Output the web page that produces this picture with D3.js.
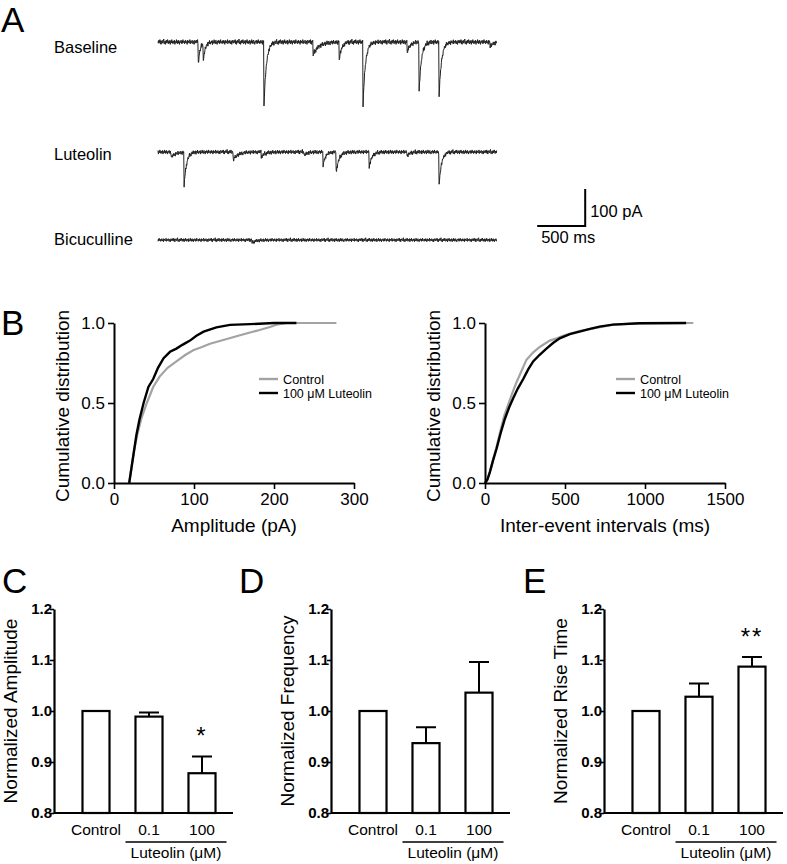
<!DOCTYPE html>
<html>
<head>
<meta charset="utf-8">
<script src="https://cdn.jsdelivr.net/npm/d3@7"></script>
<style>
  body { margin: 0; background: #fff; }
  svg { display: block; font-family: "Liberation Sans", Arial, sans-serif; }
</style>
</head>
<body>
<svg id="fig" width="787" height="864"></svg>
<script>
// ---------- panel A : example traces (events)
const traceNames = ["Baseline", "Luteolin", "Bicuculline"];
const traceDuration = 3530; // ms

const baselineEventTimes = [417, 469, 1104, 1615, 1885, 2135, 2594, 2719, 2927, 3458];
const baselineEventAmps  = [68, 57, 173, 35, 54, 176, 30, 138, 154, 14];
const baselineEventTaus  = [20, 20, 25, 60, 25, 25, 30, 25, 25, 30];

const luteolinEventTimes = [135, 271, 781, 1073, 1521, 1719, 1854, 2198, 2594, 2927];
const luteolinEventAmps  = [14, 95, 22, 14, 11, 38, 59, 43, 11, 95];
const luteolinEventTaus  = [50, 25, 50, 40, 30, 25, 30, 30, 30, 25];

const bicucullineEventTimes = [979];
const bicucullineEventAmps  = [8];
const bicucullineEventTaus  = [40];

// hand-typed background noise (pA), cycled along each sweep
const recordingNoise = [1,-2,3,0,-1,4,-3,2,-4,1,0,3,-2,-1,2,5,-3,0,1,-4,2,-1,3,-2,0,4,-1,-3,2,1,
  -2,3,-4,0,2,-1,4,-2,1,-3,0,2,-1,3,-4,1,0,-2,4,-1,2,-3,1,3,-2,0,-4,2,1,-1,
  3,0,-3,2,-2,4,-1,0,1,-3,2,-1,3,-2,0,1,-4,3,-1,2,0,-2,1,4,-3,0,2,-1,-2,3,
  1,-3,0,2,-4,1,3,-1];
const noiseScale = [1.6, 1.4, 1.2];

// ---------- panel B : cumulative distributions [value, fraction]
const ampControl = [[19,0],[22,0.1],[25,0.2],[29,0.3],[34,0.4],[41,0.5],[49,0.6],[57,0.665],
  [67,0.72],[78,0.76],[89,0.8],[99,0.83],[110,0.85],[120,0.87],[141,0.9],[162,0.93],
  [182,0.956],[195,0.975],[203,0.99],[216,1],[278,1]];
const ampLuteolin = [[19,0],[22,0.1],[25,0.2],[28,0.3],[32,0.4],[37,0.5],[43,0.6],[49,0.65],
  [55,0.72],[62,0.78],[70,0.82],[78,0.84],[86,0.865],[95,0.89],[103,0.92],[112,0.946],
  [128,0.973],[145,0.988],[170,0.993],[200,1],[228,1]];

const intervalControl = [[0,0],[13,0.02],[30,0.07],[50,0.145],[73,0.23],[100,0.34],[120,0.42],
  [145,0.49],[170,0.56],[197,0.63],[228,0.7],[259,0.77],[300,0.815],[342,0.85],[405,0.89],
  [450,0.905],[488,0.92],[540,0.935],[591,0.95],[695,0.97],[800,0.99],[965,0.998],[1302,1]];
const intervalLuteolin = [[0,0],[15,0.02],[31,0.07],[50,0.14],[73,0.217],[100,0.32],[124,0.4],
  [150,0.47],[176,0.53],[205,0.59],[239,0.65],[270,0.71],[301,0.76],[340,0.8],[384,0.84],
  [425,0.875],[467,0.904],[530,0.93],[591,0.946],[650,0.962],[716,0.977],[799,0.99],
  [965,0.998],[1257,1]];

const seriesNames = ["Control", "100 \u03BCM Luteolin"];

// ---------- panels C-E : normalized bars
const barCategories = ["Control", "0.1", "100"];
const barTicks = [0.8, 0.9, 1.0, 1.1, 1.2];

const amplitudeMeans = [1.0, 0.989, 0.878];
const amplitudeSEM   = [0, 0.008, 0.033];
const amplitudeStars = ["", "", "*"];

const frequencyMeans = [1.0, 0.937, 1.036];
const frequencySEM   = [0, 0.031, 0.060];
const frequencyStars = ["", "", ""];

const riseMeans = [1.0, 1.028, 1.087];
const riseSEM   = [0, 0.026, 0.019];
const riseStars = ["", "", "**"];

const svg = d3.select("#fig");

function panelLetter(text, x, y) {
  svg.append("text")
    .attr("x", x).attr("y", y)
    .attr("font-size", 35)
    .text(text);
}

// ================= A
panelLetter("A", 1, 32);

const xTime =
  d3.scaleLinear()
    .domain([0, traceDuration])
    .range([158, 158 + traceDuration * 0.096]);

const traces = [
  { times: baselineEventTimes, amps: baselineEventAmps, taus: baselineEventTaus, base: 42, labelY: 53 },
  { times: luteolinEventTimes, amps: luteolinEventAmps, taus: luteolinEventTaus, base: 152, labelY: 160 },
  { times: bicucullineEventTimes, amps: bicucullineEventAmps, taus: bicucullineEventTaus, base: 240, labelY: 245 }
];

traces.forEach((tr, k) => {

  const yCurrent =
    d3.scaleLinear()
      .domain([-100, 0])
      .range([tr.base + 37, tr.base]);

  const samples = [];
  for (let i = 0, t = 0; t <= traceDuration; i++, t += 4) {
    let v = recordingNoise[(i + k * 31) % recordingNoise.length] * noiseScale[k];
    tr.times.forEach((t0, j) => {
      if (t >= t0) v -= tr.amps[j] * Math.exp(-(t - t0) / tr.taus[j]);
    });
    samples.push([t, v]);
  }

  svg.append("path")
    .datum(samples)
    .attr("fill", "none")
    .attr("stroke", "#222")
    .attr("stroke-width", 1)
    .attr("d",
      d3.line()
        .x(d => xTime(d[0]))
        .y(d => yCurrent(d[1]))
    );

  svg.append("text")
    .attr("x", 54).attr("y", tr.labelY)
    .attr("font-size", 16.5)
    .text(traceNames[k]);
});

// scale bar: 500 ms x 100 pA
const yBar =
  d3.scaleLinear()
    .domain([0, 100])
    .range([226, 189]);

svg.append("path")
  .attr("fill", "none")
  .attr("stroke", "#000")
  .attr("stroke-width", 2)
  .attr("d",
    `M${xTime(3950)},${yBar(0)}H${xTime(4450)}V${yBar(100)}`);

svg.append("text")
  .attr("x", xTime(4450) + 5).attr("y", 217)
  .attr("font-size", 16.5)
  .text("100 pA");

svg.append("text")
  .attr("x", xTime(3950) + 4).attr("y", 243)
  .attr("font-size", 16.5)
  .text("500 ms");

// ================= B
panelLetter("B", 1, 335);

function cumulativePlot(x0, xMax, xTicks, title, control, luteolin, legendX) {

  const x =
    d3.scaleLinear()
      .domain([0, xMax])
      .range([x0, x0 + 240]);

  const y =
    d3.scaleLinear()
      .domain([0, 1])
      .range([483, 323]);

  const g = svg.append("g");

  const line =
    d3.line()
      .x(d => x(d[0]))
      .y(d => y(d[1]));

  g.append("path")
    .datum(control)
    .attr("fill", "none")
    .attr("stroke", "#a3a3a3")
    .attr("stroke-width", 2.2)
    .attr("d", line);

  g.append("path")
    .datum(luteolin)
    .attr("fill", "none")
    .attr("stroke", "#000")
    .attr("stroke-width", 2.4)
    .attr("d", line);

  const yAxis =
    g.append("g")
      .attr("transform", `translate(${x0},0)`)
      .call(
        d3.axisLeft(y)
          .tickValues([0, 0.5, 1])
          .tickFormat(d3.format(".1f"))
          .tickSize(6)
          .tickSizeOuter(0)
      );

  const xAxis =
    g.append("g")
      .attr("transform", "translate(0,483)")
      .call(
        d3.axisBottom(x)
          .tickValues(xTicks)
          .tickFormat(d3.format("d"))
          .tickSize(6)
          .tickSizeOuter(0)
      );

  [yAxis, xAxis].forEach(a => {
    a.select(".domain").attr("stroke-width", 2);
    a.selectAll(".tick line").attr("stroke-width", 1.6);
    a.selectAll("text")
      .attr("font-size", 17)
      .attr("font-family", "Liberation Sans, Arial, sans-serif")
      .attr("fill", "#000");
  });
  yAxis.selectAll("text").attr("x", -9);
  xAxis.selectAll("text").attr("y", 10);

  g.append("text")
    .attr("transform", `translate(${x0 - 45},406) rotate(-90)`)
    .attr("text-anchor", "middle")
    .attr("font-size", 19)
    .text("Cumulative distribution");

  g.append("text")
    .attr("x", x0 + 120).attr("y", 532)
    .attr("text-anchor", "middle")
    .attr("font-size", 19)
    .text(title);

  // legend
  [["#a3a3a3", 379, 41], ["#000", 393, 89]].forEach(([c, ly, w], i) => {
    g.append("line")
      .attr("x1", legendX).attr("x2", legendX + 19)
      .attr("y1", ly).attr("y2", ly)
      .attr("stroke", c)
      .attr("stroke-width", 2.4);
    g.append("text")
      .attr("x", legendX + 24).attr("y", ly + 4.5)
      .attr("font-size", 12.5)
      .attr("textLength", w)
      .attr("lengthAdjust", "spacingAndGlyphs")
      .text(seriesNames[i]);
  });
}

cumulativePlot(114, 300, [0, 100, 200, 300], "Amplitude (pA)",
  ampControl, ampLuteolin, 259);

cumulativePlot(485, 1500, [0, 500, 1000, 1500], "Inter-event intervals (ms)",
  intervalControl, intervalLuteolin, 616);

// ================= C, D, E
function barPanel(letter, letterX, x0, yTitle, means, sem, stars) {

  panelLetter(letter, letterX, 593);

  const y =
    d3.scaleLinear()
      .domain([0.8, 1.2])
      .range([813, 609]);

  const x =
    d3.scaleBand()
      .domain(barCategories)
      .range([x0 + 15.5, x0 + 174.5])
      .paddingInner(0.49)
      .paddingOuter(0.245);

  const g = svg.append("g");

  const rows = barCategories.map((c, i) => ({ c, m: means[i], e: sem[i], s: stars[i] }));

  g.selectAll(".err")
    .data(rows.filter(d => d.e > 0))
    .enter()
    .append("path")
    .attr("fill", "none")
    .attr("stroke", "#000")
    .attr("stroke-width", 2)
    .attr("d", d => {
      const cx = x(d.c) + x.bandwidth() / 2;
      return `M${cx},${y(d.m)}V${y(d.m + d.e)}M${cx - 10},${y(d.m + d.e)}H${cx + 10}`;
    });

  g.selectAll(".bar")
    .data(rows)
    .enter()
    .append("rect")
    .attr("x", d => x(d.c))
    .attr("width", x.bandwidth())
    .attr("y", d => y(d.m))
    .attr("height", d => y(0.8) - y(d.m))
    .attr("fill", "#fff")
    .attr("stroke", "#000")
    .attr("stroke-width", 2.2);

  g.selectAll(".star")
    .data(rows.filter(d => d.s))
    .enter()
    .append("text")
    .attr("x", d => x(d.c) + x.bandwidth() / 2)
    .attr("y", d => y(d.m + d.e) - 12)
    .attr("text-anchor", "middle")
    .attr("font-size", 24)
    .attr("letter-spacing", 2)
    .text(d => d.s);

  const yAxis =
    g.append("g")
      .attr("transform", `translate(${x0},0)`)
      .call(
        d3.axisLeft(y)
          .tickValues(barTicks)
          .tickFormat(d3.format(".1f"))
          .tickSize(4)
          .tickSizeOuter(0)
      );

  yAxis.select(".domain").attr("stroke-width", 2.2);
  yAxis.selectAll(".tick line").attr("stroke-width", 1.6);
  yAxis.selectAll("text")
    .attr("x", -2)
    .attr("font-size", 15)
    .attr("font-weight", "bold")
    .attr("font-family", "Liberation Sans, Arial, sans-serif")
    .attr("fill", "#000");

  g.append("line")
    .attr("x1", x0).attr("x2", x0 + 179)
    .attr("y1", y(0.8)).attr("y2", y(0.8))
    .attr("stroke", "#000")
    .attr("stroke-width", 2.2);

  g.selectAll(".cat")
    .data(barCategories)
    .enter()
    .append("text")
    .attr("x", d => x(d) + x.bandwidth() / 2)
    .attr("y", 835)
    .attr("text-anchor", "middle")
    .attr("font-size", 15.5)
    .text(d => d);

  const u0 = x("0.1") - 10;
  const u1 = x("100") + x.bandwidth() + 11;

  g.append("line")
    .attr("x1", u0).attr("x2", u1)
    .attr("y1", 842).attr("y2", 842)
    .attr("stroke", "#000")
    .attr("stroke-width", 1.5);

  g.append("text")
    .attr("x", (u0 + u1) / 2).attr("y", 858)
    .attr("text-anchor", "middle")
    .attr("font-size", 15.5)
    .text("Luteolin (\u03BCM)");

  g.append("text")
    .attr("transform", `translate(${x0 - 37},711) rotate(-90)`)
    .attr("text-anchor", "middle")
    .attr("font-size", 19)
    .text(yTitle);
}

barPanel("C", 2, 54, "Normalized Amplitude", amplitudeMeans, amplitudeSEM, amplitudeStars);
barPanel("D", 239, 331, "Normalized Frequency", frequencyMeans, frequencySEM, frequencyStars);
barPanel("E", 523, 604, "Normalized Rise Time", riseMeans, riseSEM, riseStars);
</script>
</body>
</html>
